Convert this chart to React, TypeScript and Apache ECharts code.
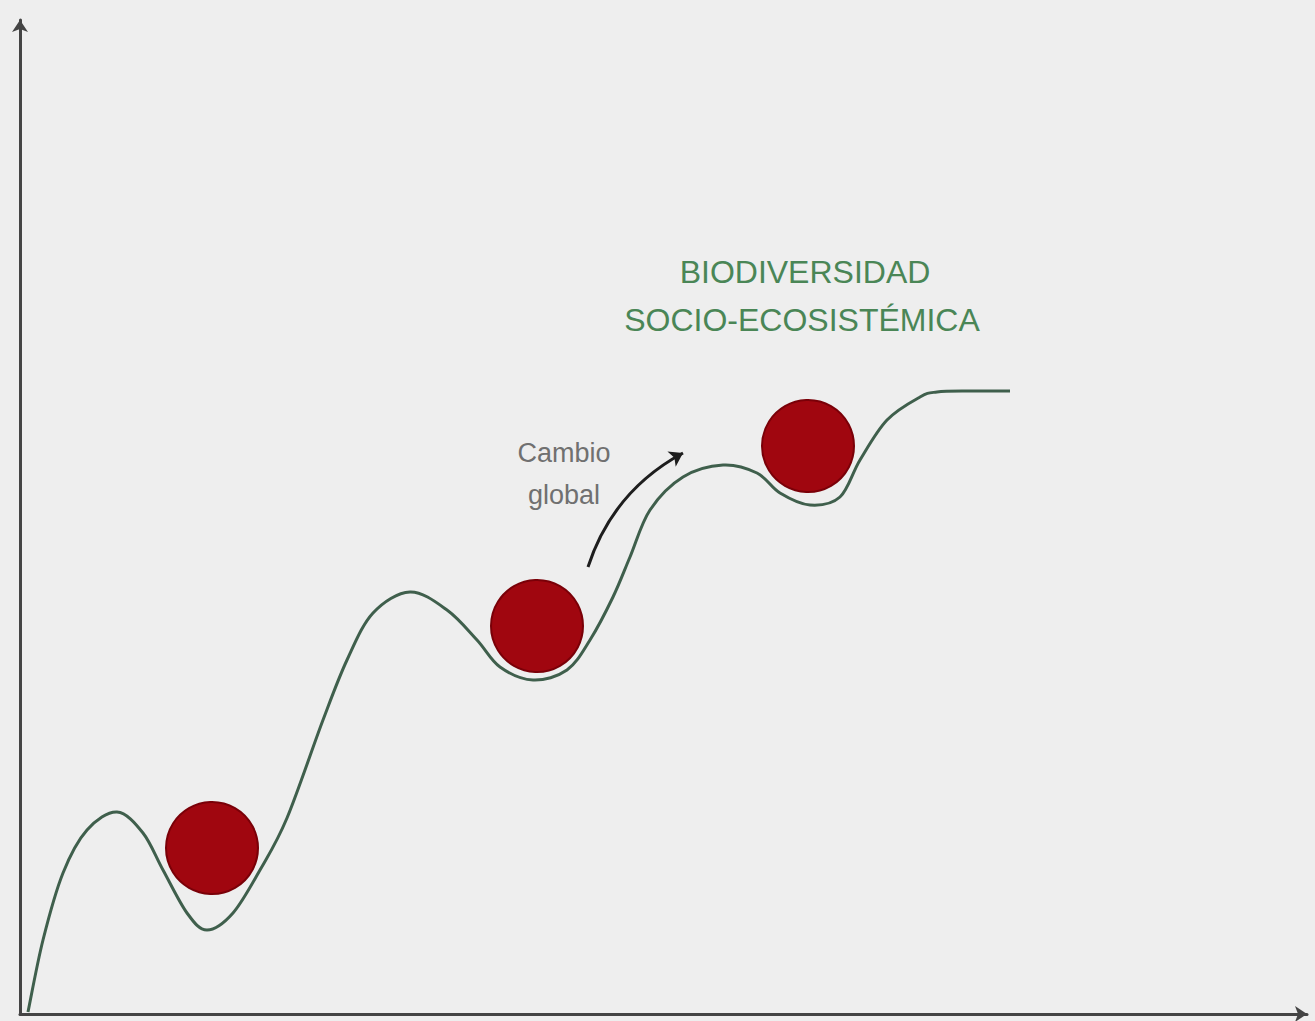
import React, { useEffect, useRef } from "react";
import * as echarts from "echarts";

// Landscape curve (x, y) in chart units
const curveX = [8, 23, 43, 67, 97, 123, 143, 167, 187, 213, 240, 267, 303, 327, 353, 390, 427, 457, 480, 513, 547, 570, 593, 610, 630, 663, 703, 737, 760, 790, 820, 840, 867, 900, 917, 950, 990];
const curveY = [2, 74, 141, 184, 202, 181, 144, 101, 84, 101, 144, 196, 294, 354, 401, 422, 404, 374, 347, 334, 344, 374, 417, 457, 504, 537, 549, 541, 521, 509, 517, 554, 594, 617, 622, 623, 623];

// Balls resting in the valleys
const ballX = [192, 517, 788];
const ballY = [166, 388, 568];

// Global-change arrow
const arrowFrom = [568, 447];
const arrowTo = [663, 561];

// Annotations
const annotTexts = ["Cambio\nglobal", "BIODIVERSIDAD", "SOCIO-ECOSISTÉMICA"];
const annotX = [544, 785, 782];
const annotY = [540, 742, 694];

function catmullRomPath(pts: number[][]): string {
  let d = `M${pts[0][0]},${pts[0][1]}`;
  for (let i = 0; i < pts.length - 1; i++) {
    const p0 = pts[i - 1] || pts[i];
    const p1 = pts[i];
    const p2 = pts[i + 1];
    const p3 = pts[i + 2] || p2;
    const c1x = p1[0] + (p2[0] - p0[0]) / 6;
    const c1y = p1[1] + (p2[1] - p0[1]) / 6;
    const c2x = p2[0] - (p3[0] - p1[0]) / 6;
    const c2y = p2[1] - (p3[1] - p1[1]) / 6;
    d += ` C${c1x},${c1y} ${c2x},${c2y} ${p2[0]},${p2[1]}`;
  }
  return d;
}

export default function App() {
  const ref = useRef<HTMLDivElement>(null);
  useEffect(() => {
    if (!ref.current) return;
    const chart = echarts.init(ref.current, null, { renderer: "svg" });
    const axisCommon = {
      type: "value",
      axisLine: {
        show: true,
        symbol: ["none", "arrow"],
        symbolSize: [12, 12],
        lineStyle: { color: "#444", width: 3 },
      },
      axisTick: { show: false },
      axisLabel: { show: false },
      splitLine: { show: false },
    };
    chart.setOption({
      animation: false,
      backgroundColor: "#eeeeee",
      grid: { left: 20, right: 8, top: 20, bottom: 7 },
      xAxis: { ...axisCommon, min: 0, max: 1287 },
      yAxis: { ...axisCommon, min: 0, max: 994 },
      series: [
        {
          type: "custom",
          data: curveX.map((x, i) => [x, curveY[i]]),
          encode: { x: 0, y: 1 },
          renderItem: (params: any, api: any) => {
            if (params.dataIndex !== 0) return null;
            const pts = curveX.map((x, i) => api.coord([x, curveY[i]]));
            return {
              type: "path",
              shape: { pathData: catmullRomPath(pts) },
              style: { fill: "none", stroke: "#3f5f4c", lineWidth: 3 },
            };
          },
          z: 2,
        },
        {
          type: "scatter",
          data: ballX.map((x, i) => [x, ballY[i]]),
          symbol: "circle",
          symbolSize: 92,
          itemStyle: {
            color: "#a0060f",
            borderColor: "#7a0008",
            borderWidth: 2,
            opacity: 1,
          },
          z: 3,
        },
        {
          type: "lines",
          coordinateSystem: "cartesian2d",
          data: [{ coords: [arrowFrom, arrowTo] }],
          symbol: ["none", "arrow"],
          symbolSize: 13,
          lineStyle: { color: "#1e1e1e", width: 3, curveness: 0.2, opacity: 1 },
          z: 4,
        },
        {
          type: "scatter",
          symbolSize: 0,
          itemStyle: { opacity: 1 },
          data: annotTexts.map((t, i) => ({
            value: [annotX[i], annotY[i]],
            label: {
              show: true,
              position: "inside",
              formatter: t,
              align: "center",
              verticalAlign: "middle",
              fontFamily: "Liberation Sans, Arial, sans-serif",
              fontSize: i === 0 ? 27 : 32,
              lineHeight: i === 0 ? 42 : 40,
              color: i === 0 ? "#707070" : "#4a8656",
            },
          })),
          z: 5,
        },
      ],
    });
    return () => chart.dispose();
  }, []);
  return (
    <div
      ref={ref}
      style={{ position: "fixed", left: 0, top: 0, width: 1315, height: 1021 }}
    />
  );
}
